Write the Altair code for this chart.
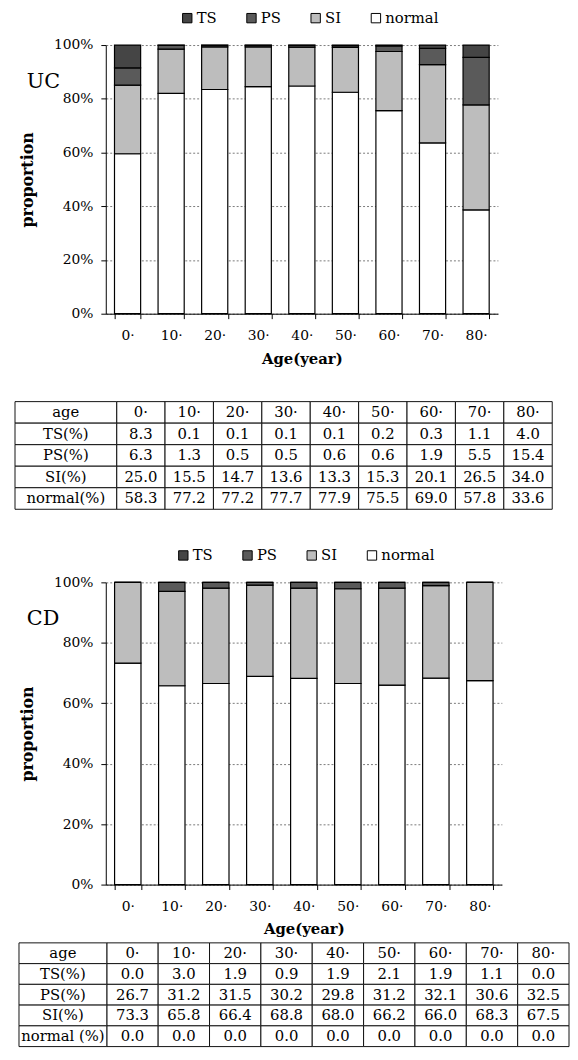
import altair as alt
import pandas as pd

FONT = "DejaVu Serif"

# ---------------- data ----------------
ages = ["0·", "10·", "20·", "30·", "40·", "50·", "60·", "70·", "80·"]
categories = ["TS", "PS", "SI", "normal"]
category_colors = ["#454545", "#5a5a5a", "#bdbdbd", "#ffffff"]
stack_order = ["normal", "SI", "PS", "TS"]

# UC table rows (%)
uc_row_labels = ["age", "TS(%)", "PS(%)", "SI(%)", "normal(%)"]
uc_ts = [8.3, 0.1, 0.1, 0.1, 0.1, 0.2, 0.3, 1.1, 4.0]
uc_ps = [6.3, 1.3, 0.5, 0.5, 0.6, 0.6, 1.9, 5.5, 15.4]
uc_si = [25.0, 15.5, 14.7, 13.6, 13.3, 15.3, 20.1, 26.5, 34.0]
uc_normal = [58.3, 77.2, 77.2, 77.7, 77.9, 75.5, 69.0, 57.8, 33.6]

# CD table rows (%)
cd_row_labels = ["age", "TS(%)", "PS(%)", "SI(%)", "normal (%)"]
cd_ts = [0.0, 3.0, 1.9, 0.9, 1.9, 2.1, 1.9, 1.1, 0.0]
cd_ps = [26.7, 31.2, 31.5, 30.2, 29.8, 31.2, 32.1, 30.6, 32.5]
cd_si = [73.3, 65.8, 66.4, 68.8, 68.0, 66.2, 66.0, 68.3, 67.5]
cd_normal = [0.0, 0.0, 0.0, 0.0, 0.0, 0.0, 0.0, 0.0, 0.0]

# CD bars as drawn in the figure (segments correspond to the table rows shifted by one)
cd_bar_series = {"normal": cd_si, "SI": cd_ps, "PS": cd_ts, "TS": cd_normal}
uc_bar_series = {"normal": uc_normal, "SI": uc_si, "PS": uc_ps, "TS": uc_ts}


def bar_chart(series, tag, width, height, legend_x, legend_y):
    rows = []
    for i, a in enumerate(ages):
        for k, cat in enumerate(stack_order):
            rows.append({"age": a, "cat": cat, "value": series[cat][i], "ord": k})
    df = pd.DataFrame(rows)
    bars = alt.Chart(df).mark_bar(stroke="black", strokeWidth=1.2).encode(
        x=alt.X(
            "age:N", sort=ages,
            scale=alt.Scale(paddingInner=0.4, paddingOuter=0.2),
            axis=alt.Axis(
                title="Age(year)", labelAngle=0, tickBand="extent", tickSize=5,
                tickColor="black", domainColor="black", labelFont=FONT,
                labelFontSize=14, labelColor="black", labelPadding=10,
                titleFont=FONT, titleFontSize=15, titleFontWeight="bold",
                titleColor="black", titlePadding=9, grid=False,
            ),
        ),
        y=alt.Y(
            "value:Q", stack="normalize",
            scale=alt.Scale(domain=[0, 1], nice=False),
            axis=alt.Axis(
                format="%", values=[0, 0.2, 0.4, 0.6, 0.8, 1.0], title="proportion",
                grid=True, gridColor="#7a7a7a", gridDash=[2, 2], gridWidth=1,
                domainColor="black", tickColor="black", tickSize=5,
                labelFont=FONT, labelFontSize=14, labelColor="black", labelPadding=8,
                titleFont=FONT, titleFontSize=16, titleFontWeight="bold",
                titleColor="black", titlePadding=18,
            ),
        ),
        color=alt.Color(
            "cat:N",
            scale=alt.Scale(domain=categories, range=category_colors),
            legend=alt.Legend(
                title=None, orient="none", legendX=legend_x, legendY=legend_y,
                direction="horizontal", symbolType="square", symbolSize=90,
                symbolStrokeColor="black", symbolStrokeWidth=1,
                labelFont=FONT, labelFontSize=15, labelColor="black",
                labelOffset=2, columnPadding=27, padding=0,
            ),
        ),
        order=alt.Order("ord:Q", sort="ascending"),
    )
    tag_df = pd.DataFrame({"t": [tag]})
    tag_text = alt.Chart(tag_df).mark_text(
        font=FONT, fontSize=21, align="left", baseline="middle", color="black"
    ).encode(text="t:N", x=alt.value(-80), y=alt.value(37))
    return alt.layer(bars, tag_text).properties(width=width, height=height)


def table_chart(row_labels, value_rows, width, height, x_start, label_left):
    cells = []
    for j, a in enumerate(ages):
        cells.append({"r": 0, "c": j, "t": a})
    for r, vals in enumerate(value_rows, start=1):
        for j, v in enumerate(vals):
            cells.append({"r": r, "c": j, "t": f"{v:.1f}"})
    for r, lab in enumerate(row_labels):
        cells.append({"r": r, "c": -1, "t": lab})
    df = pd.DataFrame(cells)
    base = alt.Chart(df).transform_calculate(
        x0=f"datum.c < 0 ? {label_left} : datum.c",
        x1="datum.c < 0 ? 0 : datum.c + 1",
        y0="datum.r",
        y1="datum.r + 1",
    ).transform_calculate(
        xm="(datum.x0 + datum.x1) / 2",
        ym="datum.r + 0.5",
    )
    xs = alt.Scale(domain=[x_start, 9], nice=False, zero=False)
    ys = alt.Scale(domain=[0, 5], nice=False, zero=False, reverse=True)
    rects = base.mark_rect(fill="white", stroke="#111111", strokeWidth=1).encode(
        x=alt.X("x0:Q", scale=xs, axis=None), x2="x1:Q",
        y=alt.Y("y0:Q", scale=ys, axis=None), y2="y1:Q",
    )
    texts = base.mark_text(font=FONT, fontSize=15, color="black", baseline="middle").encode(
        x=alt.X("xm:Q", scale=xs, axis=None),
        y=alt.Y("ym:Q", scale=ys, axis=None),
        text="t:N",
    )
    return alt.layer(rects, texts).properties(width=width, height=height)


uc_bar = bar_chart(uc_bar_series, "UC", 397, 272, 75, -35)
uc_tab = table_chart(uc_row_labels, [uc_ts, uc_ps, uc_si, uc_normal], 452, 109, -0.2245, -2.1)
cd_bar = bar_chart(cd_bar_series, "CD", 401, 306, 71, -35)
cd_tab = table_chart(cd_row_labels, [cd_ts, cd_ps, cd_si, cd_normal], 469, 105, -0.02, -1.71)

top = alt.vconcat(uc_bar, uc_tab, spacing=35)
bottom = alt.vconcat(cd_bar, cd_tab, spacing=5)

chart = (
    alt.vconcat(top, bottom, spacing=38)
    .resolve_legend(color="independent")
    .properties(padding={"left": 6, "top": -4, "right": 0, "bottom": 0})
    .configure(font=FONT)
    .configure_legend(labelFont=FONT)
    .configure_view(stroke=None)
)

chart.save("out.html", embed_options={"renderer": "svg", "actions": False})
